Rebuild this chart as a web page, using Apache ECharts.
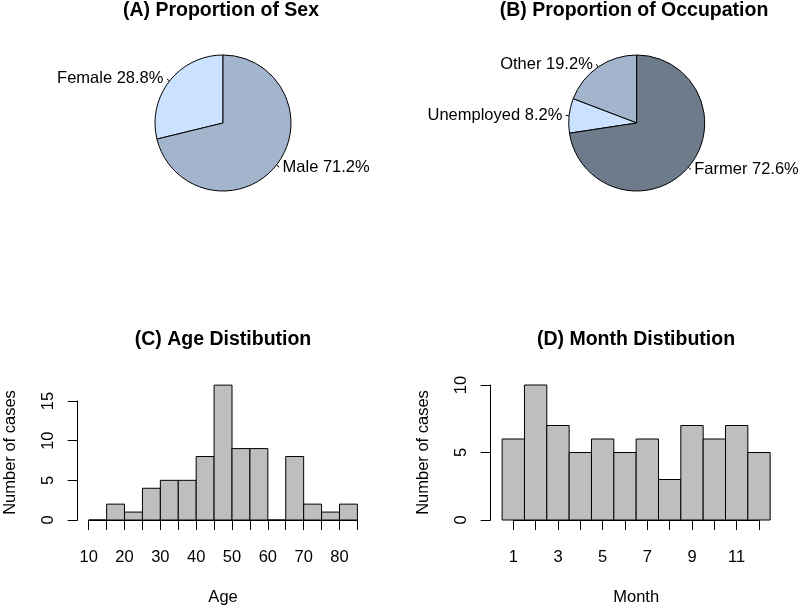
<!DOCTYPE html>
<html>
<head>
<meta charset="utf-8">
<script src="https://cdn.jsdelivr.net/npm/echarts@6/dist/echarts.min.js"></script>
<style>html,body{margin:0;padding:0;background:#fff}#c{width:800px;height:607px}</style>
</head>
<body>
<div id="c"></div>
<script>
// ---- data ----
const sexLabels = ['Female', 'Male'];
const sexValues = [28.8, 71.2];
const occLabels = ['Other', 'Unemployed', 'Farmer'];
const occValues = [19.2, 8.2, 72.6];
const ageBinStart = [10, 15, 20, 25, 30, 35, 40, 45, 50, 55, 60, 65, 70, 75, 80];
const ageBinEnd   = [15, 20, 25, 30, 35, 40, 45, 50, 55, 60, 65, 70, 75, 80, 85];
const ageCounts   = [0, 2, 1, 4, 5, 5, 8, 17, 9, 9, 0, 8, 2, 1, 2];
const months      = [1, 2, 3, 4, 5, 6, 7, 8, 9, 10, 11, 12];
const monthCounts = [6, 10, 7, 5, 6, 5, 6, 3, 7, 6, 7, 5];
const titles = ['(A) Proportion of Sex', '(B) Proportion of Occupation', '(C) Age Distibution', '(D) Month Distibution'];

const FONT = 'Liberation Sans, Arial, Helvetica, sans-serif';
const FS = 16.5;
const chart = echarts.init(document.getElementById('c'), null, {renderer: 'canvas'});

function pieSeries(labels, values, colors, center) {
  return {
    type: 'pie', center: center, radius: 68, startAngle: 90, clockwise: false,
    avoidLabelOverlap: false, animation: false, silent: true,
    data: labels.map((l, i) => ({name: l, value: values[i], itemStyle: {color: colors[i]}})),
    itemStyle: {borderColor: '#000', borderWidth: 1},
    label: {show: true, position: 'outside', formatter: '{b} {c}%', color: '#000', fontSize: FS, fontFamily: FONT, distanceToLabelLine: 3.4},
    labelLine: {show: true, length: 3.4, length2: 0, lineStyle: {color: '#000', width: 1}}
  };
}

function axisCommon() {
  return {
    axisLine: {show: true, lineStyle: {color: '#000', width: 1}},
    axisTick: {show: true, inside: false, length: 10, lineStyle: {color: '#000', width: 1}},
    splitLine: {show: false},
    nameTextStyle: {color: '#000', fontSize: FS, fontFamily: FONT},
  };
}

const histItem = {fill: '#bebebe', stroke: '#000', lineWidth: 1};

const option = {
  animation: false,
  backgroundColor: '#fff',
  title: [
    {text: titles[0], left: 221, top: 1},
    {text: titles[1], left: 634, top: 1},
    {text: titles[2], left: 223, top: 330},
    {text: titles[3], left: 636, top: 330}
  ].map(t => Object.assign(t, {textAlign: 'center', padding: 0, textStyle: {color: '#000', fontSize: 19.5, fontWeight: 'bold', fontFamily: FONT}})),
  grid: [
    {left: 88.7, top: 401, width: 268.7, height: 119},
    {left: 513.3, top: 385, width: 245.7, height: 135}
  ],
  xAxis: [
    Object.assign(axisCommon(), {gridIndex: 0, type: 'value', min: 10, max: 85, interval: 5, offset: 6,
      name: 'Age', nameLocation: 'middle', nameGap: 63,
      axisLabel: {color: '#000', fontSize: FS, fontFamily: FONT, margin: 23, formatter: v => (v % 10 === 0 ? String(v) : '')}}),
    Object.assign(axisCommon(), {gridIndex: 1, type: 'value', min: 1, max: 12, interval: 1, offset: 6,
      name: 'Month', nameLocation: 'middle', nameGap: 63,
      axisLabel: {color: '#000', fontSize: FS, fontFamily: FONT, margin: 23, formatter: v => (v % 2 === 1 ? String(v) : '')}})
  ],
  yAxis: [
    Object.assign(axisCommon(), {gridIndex: 0, type: 'value', min: 0, max: 15, interval: 5, offset: 11,
      name: 'Number of cases', nameLocation: 'middle', nameGap: 59,
      nameTextStyle: {color: '#000', fontSize: FS, fontFamily: FONT, padding: [0, 0, 0, 16]},
      axisLabel: {color: '#000', fontSize: FS, fontFamily: FONT, margin: 21, rotate: 90}}),
    Object.assign(axisCommon(), {gridIndex: 1, type: 'value', min: 0, max: 10, interval: 5, offset: 22.6,
      name: 'Number of cases', nameLocation: 'middle', nameGap: 59,
      axisLabel: {color: '#000', fontSize: FS, fontFamily: FONT, margin: 21, rotate: 90}})
  ],
  series: [
    pieSeries(sexLabels, sexValues, ['#cae1ff', '#a2b5cd'], [223, 123]),
    pieSeries(occLabels, occValues, ['#a2b5cd', '#cae1ff', '#6e7b8b'], [636.7, 123]),
    {
      type: 'custom', xAxisIndex: 0, yAxisIndex: 0, clip: false, silent: true,
      data: ageCounts.map((c, i) => [ageBinStart[i], ageBinEnd[i], c]),
      encode: {x: [0, 1], y: 2},
      renderItem: function (params, api) {
        const p0 = api.coord([api.value(0), api.value(2)]);
        const p1 = api.coord([api.value(1), 0]);
        return {type: 'rect', shape: {x: p0[0], y: p0[1], width: p1[0] - p0[0], height: p1[1] - p0[1]}, style: histItem};
      }
    },
    {
      type: 'custom', xAxisIndex: 1, yAxisIndex: 1, clip: false, silent: true,
      data: months.map((m, i) => [m, monthCounts[i]]),
      encode: {x: 0, y: 1},
      renderItem: function (params, api) {
        const top = api.coord([api.value(0), api.value(1)]);
        const base = api.coord([api.value(0), 0]);
        const w = api.size([1, 0])[0];
        return {type: 'rect', shape: {x: top[0] - w / 2, y: top[1], width: w, height: base[1] - top[1]}, style: histItem};
      }
    }
  ]
};
chart.setOption(option);
</script>
</body>
</html>
